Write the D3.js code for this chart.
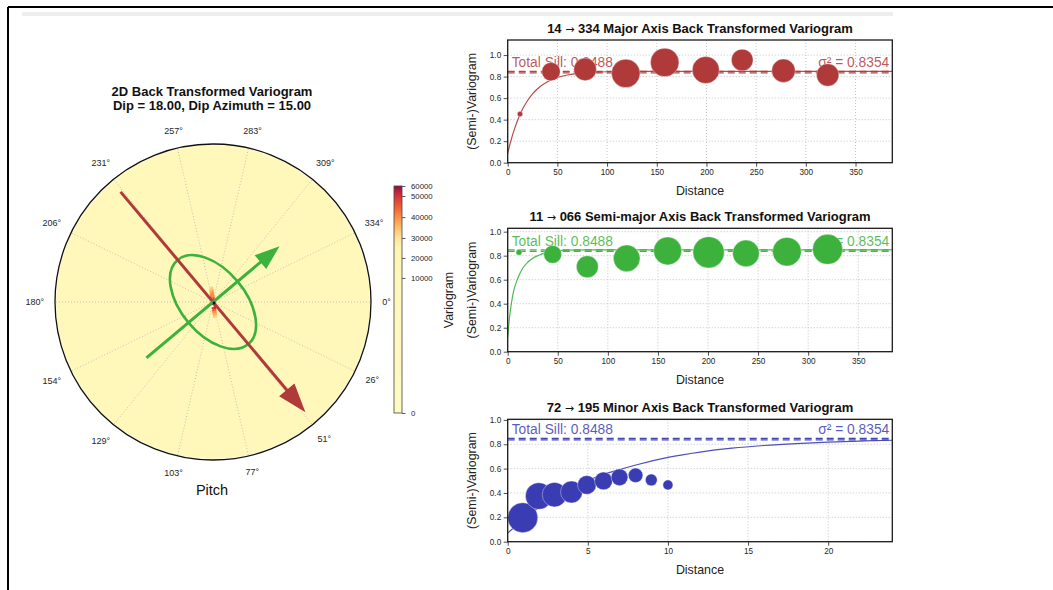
<!DOCTYPE html>
<html><head><meta charset="utf-8">
<script src="https://cdn.jsdelivr.net/npm/d3@7"></script>
<style>
body{margin:0;background:#fff;}
svg{display:block;font-family:"Liberation Sans",Arial,sans-serif;}
</style>
</head><body>
<svg id="chart" width="1053" height="590"></svg>
<script>
// ---------------- DATA ----------------
const angleTicks = [0, 26, 51, 77, 103, 129, 154, 180, 206, 231, 257, 283, 309, 334];
const cbTicks = [0, 10000, 20000, 30000, 40000, 50000, 60000];
const polarBackgroundValue = 12000;
// small high-value streak of the 2D variogram map around the origin (rows top -> bottom)
const centerHeat = [
  [31000, 33000], [34000, 36000], [37000, 39000], [40000, 41000], [42000, 40000],
  [44000, 46000], [null, 52000], [58000, 60000], [60000, 57000], [null, 50000],
  [48000, 52000], [46000, 44000], [41000, 40000], [38000, 36000], [34000, 32000]
];
// anisotropy glyphs (angle in degrees clockwise from east, length as fraction of plot radius)
const majorArrow = {angle: 50, length: 0.91};
const minorArrow = {angle: -40, length: 0.55};
const rangeEllipse = {angle: 50, a: 0.348, b: 0.203};

const totalSill = 0.8488;
const sigma2 = 0.8354;

const majorLag   = [12.4, 43.6, 77.9, 118.8, 158.0, 199.3, 236.0, 277.5, 322.0];
const majorGamma = [0.452, 0.846, 0.867, 0.830, 0.932, 0.861, 0.954, 0.855, 0.815];
const majorPairs = [290, 3400, 5100, 8100, 8100, 7300, 4700, 5500, 5000];
const majorModelX = [0, 2, 5, 10, 15, 20, 25, 30, 40, 50, 60, 70, 80, 100, 130, 200, 387];
const majorModelY = [0.087, 0.162, 0.261, 0.395, 0.498, 0.578, 0.640, 0.687, 0.753, 0.792, 0.815, 0.828, 0.837, 0.845, 0.848, 0.8488, 0.8488];

const semiLag   = [11.3, 44.9, 79.5, 118.8, 159.7, 200.6, 237.9, 278.8, 319.4];
const semiGamma = [0.828, 0.811, 0.708, 0.778, 0.839, 0.828, 0.819, 0.833, 0.853];
const semiPairs = [360, 3200, 4800, 7100, 7800, 9800, 7100, 8200, 9000];
const semiModelX = [0, 2, 5, 10, 15, 20, 25, 30, 40, 50, 60, 80, 384];
const semiModelY = [0.12, 0.30, 0.47, 0.61, 0.695, 0.745, 0.778, 0.80, 0.83, 0.843, 0.847, 0.8488, 0.8488];

const minorLag   = [0.94, 1.94, 2.92, 3.98, 4.94, 5.98, 6.98, 7.98, 8.96, 10.0];
const minorGamma = [0.197, 0.375, 0.386, 0.408, 0.466, 0.499, 0.529, 0.545, 0.507, 0.466];
const minorPairs = [9000, 7100, 6000, 4800, 3500, 3200, 2800, 2100, 1400, 1000];
const minorModelX = [0, 1, 2, 3, 4, 5, 6, 7, 8, 10, 12, 14, 16, 18, 20, 22, 24];
const minorModelY = [0.07, 0.187, 0.286, 0.370, 0.442, 0.502, 0.553, 0.593, 0.630, 0.692, 0.736, 0.768, 0.790, 0.806, 0.818, 0.826, 0.833];

const tickDist = [0, 50, 100, 150, 200, 250, 300, 350];
const tickDistMinor = [0, 5, 10, 15, 20];
const tickGamma = [0, 0.2, 0.4, 0.6, 0.8, 1.0];

// ---------------- STYLE / LAYOUT ----------------
const svg = d3.select("#chart");
const heatStops  = [0, 25000, 30000, 35000, 40000, 45000, 50000, 55000, 60000];
const heatColors = ['#fffac2', '#fff5b2', '#fee39a', '#fdbe6a', '#fa9046', '#ef5c35', '#d6323a', '#b91f3e', '#8f0d3f'];
const heat = d3.scaleLinear().domain(heatStops).range(heatColors).clamp(true);
const cbNormFrac = [0, 0.595, 0.683, 0.771, 0.863, 0.956, 1];

// figure frame
svg.append("line").attr("x1", 8).attr("y1", 7).attr("x2", 8).attr("y2", 590).attr("stroke", "#000").attr("stroke-width", 2);
svg.append("line").attr("x1", 8).attr("y1", 7).attr("x2", 1053).attr("y2", 7).attr("stroke", "#000").attr("stroke-width", 2);
svg.append("rect").attr("x", 22).attr("y", 12).attr("width", 871).attr("height", 4).attr("fill", "#eeeeee");

// ---------------- POLAR ----------------
const cx = 213, cy = 302, R = 158;
const rS = d3.scaleLinear([0, 1], [0, R]);
const pt = (ang, r) => [cx + rS(r) * Math.cos(ang * Math.PI / 180), cy + rS(r) * Math.sin(ang * Math.PI / 180)];
const gP = svg.append("g");

gP.append("circle").attr("cx", cx).attr("cy", cy).attr("r", R - 1).attr("fill", heat(polarBackgroundValue));

// radial grid
angleTicks.forEach(a => {
  const [x2, y2] = pt(a, 1);
  gP.append("line").attr("x1", cx).attr("y1", cy).attr("x2", x2).attr("y2", y2)
    .attr("stroke", "#b4b4b4").attr("stroke-width", 0.8).attr("stroke-dasharray", "1,2");
});

// centre heat streak
const cell = 0.013;
const gH = gP.append("g").attr("transform", `translate(${cx},${cy}) rotate(-8)`);
const nR = centerHeat.length;
centerHeat.forEach((row, i) => {
  row.forEach((v, j) => {
    gH.append("rect")
      .attr("x", rS((j - row.length / 2) * cell))
      .attr("y", rS((i - nR / 2) * cell))
      .attr("width", rS(cell) + 0.2).attr("height", rS(cell) + 0.2)
      .attr("fill", v === null ? "#ffffff" : heat(v));
  });
});

// ellipse
gP.append("ellipse").attr("cx", cx).attr("cy", cy)
  .attr("rx", rS(rangeEllipse.a)).attr("ry", rS(rangeEllipse.b))
  .attr("transform", `rotate(${rangeEllipse.angle},${cx},${cy})`)
  .attr("fill", "none").attr("stroke", "#3cb13c").attr("stroke-width", 2.6);

function arrow(spec, color, headLen, headHalf, lw) {
  const th = spec.angle * Math.PI / 180;
  const dx = Math.cos(th), dy = Math.sin(th);
  const tip = pt(spec.angle, spec.length);
  const tail = pt(spec.angle + 180, spec.length);
  const base = [tip[0] - headLen * dx, tip[1] - headLen * dy];
  gP.append("line").attr("x1", tail[0]).attr("y1", tail[1]).attr("x2", base[0] + 1 * dx).attr("y2", base[1] + 1 * dy)
    .attr("stroke", color).attr("stroke-width", lw);
  const p1 = [base[0] - headHalf * dy, base[1] + headHalf * dx];
  const p2 = [base[0] + headHalf * dy, base[1] - headHalf * dx];
  gP.append("path").attr("d", `M${tip}L${p1}L${p2}Z`).attr("fill", color);
}
arrow(majorArrow, "#b03a3a", 29, 10, 3);
arrow(minorArrow, "#3cb13c", 25, 9, 3);

gP.append("circle").attr("cx", cx + 1).attr("cy", cy + 1).attr("r", 1.4).attr("fill", "#111");

gP.append("circle").attr("cx", cx).attr("cy", cy).attr("r", R).attr("fill", "none").attr("stroke", "#111").attr("stroke-width", 1.3);

// angle labels
angleTicks.forEach(a => {
  const lab = a + "°";
  const w = lab.length * 4.6;
  const th = a * Math.PI / 180;
  const ext = (w / 2) * Math.abs(Math.cos(th)) + 4.5 * Math.abs(Math.sin(th));
  const d = R + 11 + ext;
  gP.append("text").attr("x", cx + d * Math.cos(th)).attr("y", cy + d * Math.sin(th))
    .attr("text-anchor", "middle").attr("dominant-baseline", "central")
    .attr("font-size", 9).attr("fill", "#262626").text(lab);
});

gP.append("text").attr("x", 212).attr("y", 96).attr("text-anchor", "middle").attr("font-weight", "bold").attr("font-size", 13).attr("fill", "#111").text("2D Back Transformed Variogram");
gP.append("text").attr("x", 212).attr("y", 110).attr("text-anchor", "middle").attr("font-weight", "bold").attr("font-size", 13).attr("fill", "#111").text("Dip = 18.00, Dip Azimuth = 15.00");
gP.append("text").attr("x", 212).attr("y", 495).attr("text-anchor", "middle").attr("font-size", 14.5).attr("fill", "#111").text("Pitch");

// ---------------- COLORBAR ----------------
const cbX = 394, cbW = 8, cbTop = 186, cbBot = 413;
const cbY = d3.scaleLinear().domain(cbTicks).range(cbNormFrac.map(f => cbBot - f * (cbBot - cbTop)));
const defs = svg.append("defs");
const grad = defs.append("linearGradient").attr("id", "cbg").attr("x1", 0).attr("y1", 1).attr("x2", 0).attr("y2", 0);
d3.range(0, 60001, 1000).forEach(v => {
  grad.append("stop").attr("offset", (cbBot - cbY(v)) / (cbBot - cbTop)).attr("stop-color", heat(v));
});
svg.append("rect").attr("x", cbX).attr("y", cbTop).attr("width", cbW).attr("height", cbBot - cbTop)
  .attr("fill", "url(#cbg)").attr("stroke", "#444").attr("stroke-width", 0.8);
const cbAxis = svg.append("g").attr("transform", `translate(${cbX + cbW},0)`)
  .call(d3.axisRight(cbY).tickValues(cbTicks).tickSize(3.5).tickPadding(5.5).tickFormat(d3.format("d")));
cbAxis.select(".domain").remove();
cbAxis.selectAll("line").attr("stroke", "#333").attr("stroke-width", 0.8);
cbAxis.selectAll("text").attr("font-size", 7.8).attr("fill", "#262626").attr("font-family", "Liberation Sans, Arial, sans-serif");
svg.append("text").attr("transform", `translate(449,300) rotate(-90)`).attr("text-anchor", "middle")
  .attr("dominant-baseline", "central").attr("font-size", 12.4).attr("fill", "#222").text("Variogram");

// ---------------- VARIOGRAM PANELS ----------------
const L = 507.7, Rt = 892.3;
const panels = [
  {from: "14", to: "334", name: "Major Axis Back Transformed Variogram", top: 40, bottom: 162.7, xmax: 387, ymax: 1.14,
   xt: tickDist, color: "#b03a3a", lag: majorLag, gamma: majorGamma, pairs: majorPairs, mx: majorModelX, my: majorModelY},
  {from: "11", to: "066", name: "Semi-major Axis Back Transformed Variogram", top: 228.3, bottom: 351.7, xmax: 384, ymax: 1.028,
   xt: tickDist, color: "#3cb13c", lag: semiLag, gamma: semiGamma, pairs: semiPairs, mx: semiModelX, my: semiModelY},
  {from: "72", to: "195", name: "Minor Axis Back Transformed Variogram", top: 419.3, bottom: 541.7, xmax: 24, ymax: 1.005,
   xt: tickDistMinor, color: "#3a3cb3", lag: minorLag, gamma: minorGamma, pairs: minorPairs, mx: minorModelX, my: minorModelY}
];
const rSize = d3.scaleSqrt().domain([0, 9000]).range([0, 15]);

panels.forEach((p, k) => {
  const x = d3.scaleLinear([0, p.xmax], [L, Rt]);
  const y = d3.scaleLinear([0, p.ymax], [p.bottom, p.top]);
  const g = svg.append("g");
  const clipId = "clip" + k;
  defs.append("clipPath").attr("id", clipId).append("rect")
    .attr("x", L).attr("y", p.top).attr("width", Rt - L).attr("height", p.bottom - p.top);

  // grid
  p.xt.forEach(t => g.append("line").attr("x1", x(t)).attr("x2", x(t)).attr("y1", p.top).attr("y2", p.bottom)
    .attr("stroke", "#b4b4b4").attr("stroke-width", 0.8).attr("stroke-dasharray", "1,2"));
  tickGamma.forEach(t => g.append("line").attr("x1", L).attr("x2", Rt).attr("y1", y(t)).attr("y2", y(t))
    .attr("stroke", "#b4b4b4").attr("stroke-width", 0.8).attr("stroke-dasharray", "1,2"));

  const gc = g.append("g").attr("clip-path", `url(#${clipId})`);
  [totalSill, sigma2].forEach(s => gc.append("line").attr("x1", L).attr("x2", Rt).attr("y1", y(s)).attr("y2", y(s))
    .attr("stroke", p.color).attr("stroke-width", 1.2).attr("stroke-dasharray", "7,4").attr("opacity", 0.95));
  const line = d3.line().x(d => x(d[0])).y(d => y(d[1])).curve(d3.curveMonotoneX);
  gc.append("path").attr("d", line(p.mx.map((v, i) => [v, p.my[i]])))
    .attr("fill", "none").attr("stroke", p.color).attr("stroke-width", 1.2).attr("opacity", 0.9);

  g.append("text").attr("x", L + 4).attr("y", y(totalSill) - 4).attr("font-size", 13.8)
    .attr("fill", p.color).attr("fill-opacity", 0.85).text("Total Sill: " + totalSill.toFixed(4));
  g.append("text").attr("x", Rt - 3).attr("y", y(totalSill) - 4).attr("font-size", 13.8).attr("text-anchor", "end")
    .attr("fill", p.color).attr("fill-opacity", 0.85).text("σ² = " + sigma2.toFixed(4));

  // experimental points
  p.lag.forEach((v, i) => {
    g.append("circle").attr("cx", x(v)).attr("cy", y(p.gamma[i])).attr("r", rSize(p.pairs[i]))
      .attr("fill", p.color).attr("stroke", "#fff").attr("stroke-width", 0.6).attr("stroke-opacity", 0.6);
  });

  // axes
  const ax = g.append("g").attr("transform", `translate(0,${p.bottom})`)
    .call(d3.axisBottom(x).tickValues(p.xt).tickSize(4).tickPadding(2.5).tickFormat(d3.format("d")));
  const ay = g.append("g").attr("transform", `translate(${L},0)`)
    .call(d3.axisLeft(y).tickValues(tickGamma).tickSize(4).tickPadding(2.5).tickFormat(d3.format(".1f")));
  [ax, ay].forEach(a => {
    a.select(".domain").remove();
    a.selectAll("line").attr("stroke", "#222").attr("stroke-width", 0.8);
    a.selectAll("text").attr("font-size", 8.2).attr("fill", "#262626").attr("font-family", "Liberation Sans, Arial, sans-serif");
  });
  g.append("rect").attr("x", L).attr("y", p.top).attr("width", Rt - L).attr("height", p.bottom - p.top)
    .attr("fill", "none").attr("stroke", "#1a1a1a").attr("stroke-width", 1.3);

  const t = g.append("text").attr("x", (L + Rt) / 2).attr("y", p.top - 7.5).attr("text-anchor", "middle")
    .attr("font-weight", "bold").attr("font-size", 13).attr("fill", "#111");
  t.append("tspan").text(p.from + " ");
  t.append("tspan").attr("font-family", "DejaVu Sans").attr("font-weight", "normal").attr("font-size", 11).text("→");
  t.append("tspan").text(" " + p.to + " " + p.name);
  g.append("text").attr("x", (L + Rt) / 2).attr("y", p.bottom + 32).attr("text-anchor", "middle")
    .attr("font-size", 12.4).attr("fill", "#222").text("Distance");
  g.append("text").attr("transform", `translate(472,${(p.top + p.bottom) / 2}) rotate(-90)`).attr("text-anchor", "middle")
    .attr("dominant-baseline", "central").attr("font-size", 12.4).attr("fill", "#222").text("(Semi-)Variogram");
});
</script>
</body></html>
